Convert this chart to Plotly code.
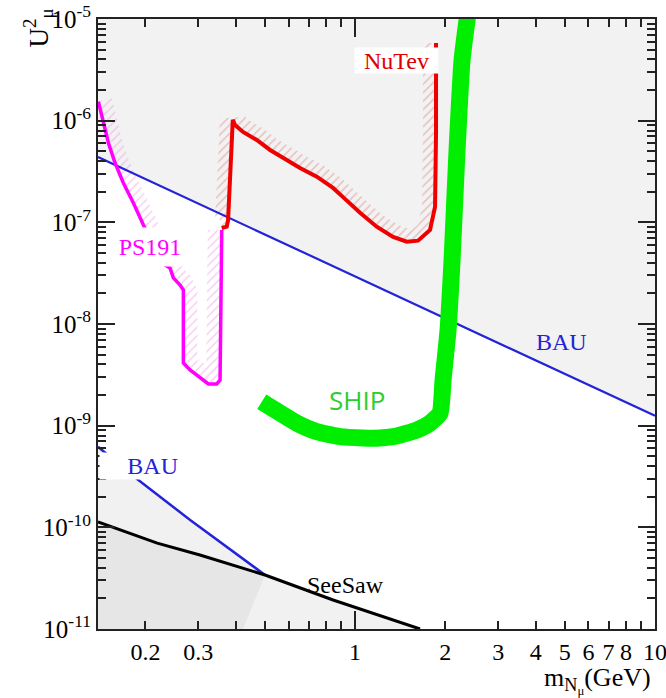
import numpy as np
import plotly.graph_objects as go

# ---------------- data ----------------
X_MIN, X_MAX = 0.139, 10.0
U_MIN, U_MAX = 1e-11, 1e-5

bau_up_m = [0.139, 1.0, 10.0]
bau_up_u = [4.4e-7, 2.93e-8, 1.25e-9]

bau_lo_m = [0.139, 0.1876, 0.282, 0.501]
bau_lo_u = [6.2e-10, 2.99e-10, 1.18e-10, 3.4e-11]

seesaw_m = [0.139, 0.219, 0.304, 0.501, 0.845, 1.647]
seesaw_u = [1.13e-10, 7.0e-11, 5.35e-11, 3.4e-11, 1.93e-11, 1.0e-11]
dark_edge_m = 0.423

ps191_m = [0.1394, 0.1449, 0.1506, 0.1585, 0.1689, 0.1824, 0.197, 0.2268, 0.2416,
           0.2479, 0.261, 0.2677, 0.2677, 0.2818, 0.3043, 0.3243, 0.3459, 0.3548, 0.3594]
ps191_u = [1.54e-6, 9.5e-7, 6.03e-7, 3.83e-7, 2.44e-7, 1.55e-7, 9.4e-8, 3.98e-8, 3.56e-8,
           2.84e-8, 2.42e-8, 2.16e-8, 4.14e-9, 3.53e-9, 2.95e-9, 2.57e-9, 2.57e-9, 2.81e-9, 8.41e-8]

nutev_m = [0.3594, 0.3735, 0.3773, 0.3831, 0.3912, 0.398, 0.4232, 0.4702, 0.5208, 0.592,
           0.6555, 0.7453, 0.8446, 0.912, 1.039, 1.181, 1.339, 1.487, 1.622, 1.778, 1.848,
           1.862, 1.862, 1.862]
nutev_u = [8.79e-8, 9.06e-8, 1.05e-7, 2.61e-7, 1.02e-6, 9.08e-7, 7.75e-7, 6.46e-7, 5.15e-7,
           4.11e-7, 3.43e-7, 2.81e-7, 2.18e-7, 1.77e-7, 1.24e-7, 9.06e-8, 7.18e-8, 6.45e-8,
           6.6e-8, 8.41e-8, 1.42e-7, 7.57e-7, 2.94e-6, 5.8e-6]

ship_m = [0.4887, 0.5623, 0.6391, 0.7454, 0.8913, 1.063, 1.211, 1.377, 1.606, 1.778,
          1.92, 1.965, 2.042, 2.106, 2.188, 2.274, 2.37]
ship_u = [1.72e-9, 1.33e-9, 1.06e-9, 8.73e-10, 7.8e-10, 7.57e-10, 7.57e-10, 7.92e-10,
          9.06e-10, 1.06e-9, 1.33e-9, 2.81e-9, 8.73e-9, 4.26e-8, 5.15e-7, 3.95e-6, 1.05e-5]

x_tickvals = [0.2, 0.3, 1, 2, 3, 4, 5, 6, 7, 8, 10]
x_ticktext = ["0.2", "0.3", "1", "2", "3", "4", "5", "6", "7", "8", "10"]
x_minor = [0.4, 0.5, 0.6, 0.7, 0.8, 0.9, 9]
x_long = [1, 10]
y_tickvals = [1e-11, 1e-10, 1e-9, 1e-8, 1e-7, 1e-6, 1e-5]
y_ticktext = ["10<sup>-11</sup>", "10<sup>-10</sup>", "10<sup>-9</sup>", "10<sup>-8</sup>",
              "10<sup>-7</sup>", "10<sup>-6</sup>", "10<sup>-5</sup>"]
y_minor = [k * 10.0 ** e for e in range(-11, -5) for k in range(2, 10)]

# ---------------- helpers ----------------
PX_X, PX_Y = 300.0, 101.67   # approx. pixels per decade (for hatch band offset)


def band(m, u, width):
    X = np.log10(m) * PX_X
    Y = -np.log10(u) * PX_Y
    dX, dY = np.gradient(X), np.gradient(Y)
    n = np.hypot(dX, dY)
    X2 = X + width * dY / n
    Y2 = Y - width * dX / n
    m2 = 10 ** (X2 / PX_X)
    u2 = 10 ** (-Y2 / PX_Y)
    return list(m) + list(m2[::-1]), list(u) + list(u2[::-1])


SERIF = "Liberation Serif"
fig = go.Figure()

# excluded regions (gray)
fig.add_trace(go.Scatter(x=bau_up_m + [X_MAX, X_MIN], y=bau_up_u + [U_MAX, U_MAX],
                         fill="toself", fillcolor="#f2f2f2", line=dict(width=0),
                         mode="lines", hoverinfo="skip"))
fig.add_trace(go.Scatter(x=bau_lo_m + seesaw_m[4:] + [X_MIN], y=bau_lo_u + seesaw_u[4:] + [U_MIN],
                         fill="toself", fillcolor="#f1f1f1", line=dict(width=0),
                         mode="lines", hoverinfo="skip"))
fig.add_trace(go.Scatter(x=seesaw_m[:4] + [dark_edge_m, X_MIN], y=seesaw_u[:4] + [U_MIN, U_MIN],
                         fill="toself", fillcolor="#e6e6e6", line=dict(width=0),
                         mode="lines", hoverinfo="skip"))

# hatched bands
for (m, u, w, col) in [(ps191_m, ps191_u, 14, "rgba(235,150,225,0.9)"),
                       (nutev_m, nutev_u, 13, "rgba(215,130,130,0.9)")]:
    bx, by = band(m, u, w)
    fig.add_trace(go.Scatter(x=bx, y=by, fill="toself", fillcolor="rgba(0,0,0,0)",
                             fillpattern=dict(shape="/", fgcolor=col, bgcolor="rgba(0,0,0,0)",
                                              size=6, solidity=0.25),
                             line=dict(width=0), mode="lines", hoverinfo="skip"))

# lines
fig.add_trace(go.Scatter(x=bau_up_m, y=bau_up_u, mode="lines", line=dict(color="#2323d8", width=2.2)))
fig.add_trace(go.Scatter(x=bau_lo_m, y=bau_lo_u, mode="lines", line=dict(color="#2323d8", width=2.5)))
fig.add_trace(go.Scatter(x=seesaw_m, y=seesaw_u, mode="lines", line=dict(color="black", width=3)))
fig.add_trace(go.Scatter(x=ps191_m, y=ps191_u, mode="lines", line=dict(color="#ff00ff", width=3.5)))
fig.add_trace(go.Scatter(x=nutev_m, y=nutev_u, mode="lines", line=dict(color="#ee0000", width=4)))
fig.add_trace(go.Scatter(x=ship_m, y=ship_u, mode="lines",
                         line=dict(color="#00ee00", width=17, shape="spline", smoothing=0.5)))
# helper trace for the overlay axis carrying the long ticks
fig.add_trace(go.Scatter(x=[], y=[], xaxis="x2", mode="lines", hoverinfo="skip"))

axis_common = dict(type="log", showgrid=False, zeroline=False, showline=True,
                   linecolor="#222", linewidth=2, mirror="ticks", ticks="inside",
                   tickcolor="#222", tickwidth=1.5, automargin=False,
                   ticklabeloverflow="allow")

fig.update_layout(
    width=666, height=698,
    margin=dict(l=98, r=11, t=19, b=69, autoexpand=False),
    paper_bgcolor="white", plot_bgcolor="white",
    showlegend=False,
    xaxis=dict(range=[np.log10(X_MIN), np.log10(X_MAX)], tickmode="array",
               tickvals=x_tickvals, ticktext=x_ticktext, ticklen=8,
               tickfont=dict(family=SERIF, size=24, color="black"),
               minor=dict(tickvals=x_minor, ticks="inside", ticklen=8, tickcolor="#222"),
               **axis_common),
    xaxis2=dict(type="log", range=[np.log10(X_MIN), np.log10(X_MAX)], overlaying="x",
                anchor="y", side="bottom", tickmode="array", tickvals=x_long,
                ticks="inside", ticklen=18, tickwidth=1.5, tickcolor="#222",
                showticklabels=False, showgrid=False, zeroline=False, showline=False,
                mirror="ticks", automargin=False),
    yaxis=dict(range=[np.log10(U_MIN), np.log10(U_MAX)], tickmode="array",
               tickvals=y_tickvals, ticktext=y_ticktext, ticklen=17,
               tickfont=dict(family=SERIF, size=25, color="black"),
               minor=dict(tickvals=y_minor, ticks="inside", ticklen=8, tickcolor="#222"),
               **axis_common),
)

ann = [
    dict(x=np.log10(1.375), y=np.log10(3.91e-6), text="NuTev", font=dict(family=SERIF, size=24, color="#dd0000"),
         bgcolor="white", width=83, height=25, borderpad=0),
    dict(x=np.log10(0.2073), y=np.log10(5.72e-8), text="PS191", font=dict(family=SERIF, size=24, color="#ff00ff"),
         bgcolor="white", width=66, height=38, borderpad=0),
    dict(x=np.log10(0.1905), y=np.log10(4.0e-10), text="BAU", font=dict(family=SERIF, size=24, color="#2323d8"),
         bgcolor="white", width=78, height=26, borderpad=0, align="right"),
    dict(x=np.log10(4.86), y=np.log10(6.65e-9), text="BAU", font=dict(family=SERIF, size=24, color="#2323d8")),
    dict(x=np.log10(0.926), y=np.log10(2.71e-11), text="SeeSaw", font=dict(family=SERIF, size=24, color="black")),
    dict(x=np.log10(1.015), y=np.log10(1.79e-9), text="SHIP", font=dict(family="Open Sans", size=26, color="#2ecc2e")),
]
for a in ann:
    fig.add_annotation(xref="x", yref="y", showarrow=False, xanchor="center", yanchor="middle", **a)

fig.add_annotation(xref="paper", yref="paper", x=0.9964, y=-0.085, xanchor="right", yanchor="middle",
                   text="m<sub>N<sub>μ</sub></sub>(GeV)", showarrow=False,
                   font=dict(family=SERIF, size=26, color="black"))
fig.add_annotation(xref="paper", yref="paper", x=-0.107, y=0.985, xanchor="center", yanchor="middle",
                   text="U<sup>2</sup><sub>μ</sub>", textangle=-90, showarrow=False,
                   font=dict(family=SERIF, size=27, color="black"))

# remove the page's default 8px body margin so the figure fills the window exactly
fig.write_html("out.html", config={"displayModeBar": False},
               post_script="document.body.style.margin='0';")
